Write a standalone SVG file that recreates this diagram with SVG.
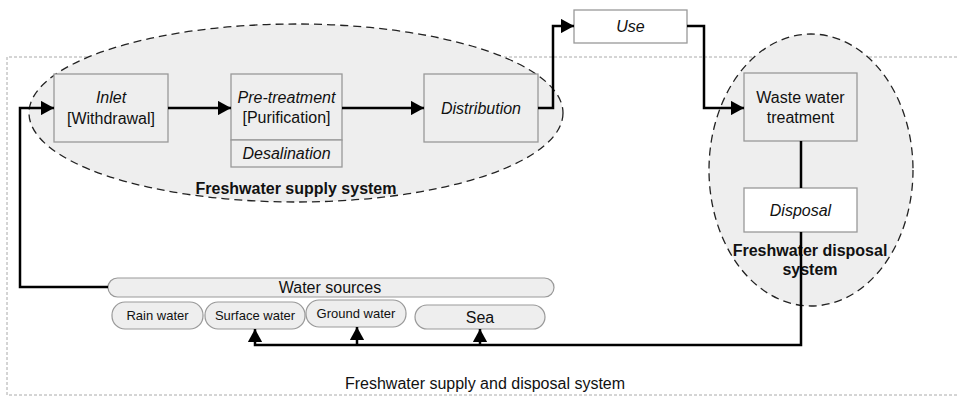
<svg xmlns="http://www.w3.org/2000/svg" width="957" height="397" viewBox="0 0 957 397">
<style>
.box{fill:#eeeeee;stroke:#999999;stroke-width:1.3}
.wbox{fill:#ffffff;stroke:#999999;stroke-width:1.3}
.ell{fill:#eeeeee;stroke:#222222;stroke-width:1.3;stroke-dasharray:8,5}
.pill{fill:#eeeeee;stroke:#999999;stroke-width:1.2}
.t{font-family:"Liberation Sans",Arial,sans-serif;font-size:16px;fill:#111;text-anchor:middle}
.i{font-style:italic}
.b{font-weight:bold;font-size:16px}
.s{font-size:13px}
.c{fill:none;stroke:#000;stroke-width:2.5}
</style>
<defs>
<marker id="ah" viewBox="0 0 10 11" refX="10" refY="5.5" markerWidth="5.2" markerHeight="5.8" orient="auto" markerUnits="strokeWidth">
<path d="M0,0 L10,5.5 L0,11 Z" fill="#000"/>
</marker>
</defs>
<g id="frame">
<path d="M957,57 L7,57 L7,395 L957,395" fill="none" stroke="#aaaaaa" stroke-width="1" stroke-dasharray="3,2"/>
<text class="t" x="485" y="389">Freshwater supply and disposal system</text>
</g>
<g id="supply-system">
<ellipse class="ell" cx="296" cy="113" rx="267" ry="89"/>
<text class="t b" x="296" y="194">Freshwater supply system</text>
</g>
<g id="disposal-system">
<ellipse class="ell" cx="811" cy="170" rx="102" ry="136"/>
<text class="t b" x="810" y="256">Freshwater disposal</text>
<text class="t b" x="810" y="275">system</text>
</g>
<g id="inlet">
<rect class="box" x="54" y="74" width="114" height="68"/>
<text class="t i" x="111" y="103">Inlet</text>
<text class="t" x="111" y="124">[Withdrawal]</text>
</g>
<g id="pretreatment">
<rect class="box" x="231" y="74" width="111" height="66"/>
<text class="t i" x="286.5" y="103">Pre-treatment</text>
<text class="t" x="286.5" y="123">[Purification]</text>
</g>
<g id="desalination">
<rect class="box" x="231" y="140" width="111" height="27"/>
<text class="t i" x="286.5" y="159">Desalination</text>
</g>
<g id="distribution">
<rect class="box" x="424" y="74" width="114" height="68"/>
<text class="t i" x="481" y="114">Distribution</text>
</g>
<g id="use">
<rect class="wbox" x="574" y="10" width="113" height="33"/>
<text class="t i" x="630.5" y="32">Use</text>
</g>
<g id="wastewater">
<rect class="box" x="744" y="73" width="113" height="68"/>
<text class="t" x="800.5" y="103">Waste water</text>
<text class="t" x="800.5" y="123">treatment</text>
</g>
<g id="disposal">
<rect class="wbox" x="744" y="188" width="113" height="44"/>
<text class="t i" x="800.5" y="216">Disposal</text>
</g>
<g id="water-sources">
<rect class="pill" x="108" y="278" width="446" height="19" rx="9.5"/>
<text class="t" x="330" y="293">Water sources</text>
</g>
<g id="rain">
<rect class="pill" x="112" y="302" width="91" height="27" rx="13"/>
<text class="t s" x="157.5" y="320">Rain water</text>
</g>
<g id="surface">
<rect class="pill" x="205" y="302" width="100" height="27" rx="13"/>
<text class="t s" x="255" y="320">Surface water</text>
</g>
<g id="ground">
<rect class="pill" x="306" y="300" width="100" height="27" rx="13"/>
<text class="t s" x="356" y="318">Ground water</text>
</g>
<g id="sea">
<rect class="pill" x="415" y="305" width="130" height="24" rx="12"/>
<text class="t" x="480" y="323">Sea</text>
</g>
<g id="connectors">
<path class="c" d="M168,108 L231,108" marker-end="url(#ah)"/>
<path class="c" d="M342,108 L424,108" marker-end="url(#ah)"/>
<path class="c" d="M108,287 L20,287 L20,108 L54,108" marker-end="url(#ah)"/>
<path class="c" d="M538,108 L553,108 L553,26 L574,26" marker-end="url(#ah)"/>
<path class="c" d="M687,26 L704,26 L704,108 L744,108" marker-end="url(#ah)"/>
<path class="c" d="M801,141 L801,188"/>
<path class="c" d="M801,232 L801,345 L255,345 L255,329" marker-end="url(#ah)"/>
<path class="c" d="M357,345 L357,327" marker-end="url(#ah)"/>
<path class="c" d="M480,345 L480,329" marker-end="url(#ah)"/>
</g>
</svg>
